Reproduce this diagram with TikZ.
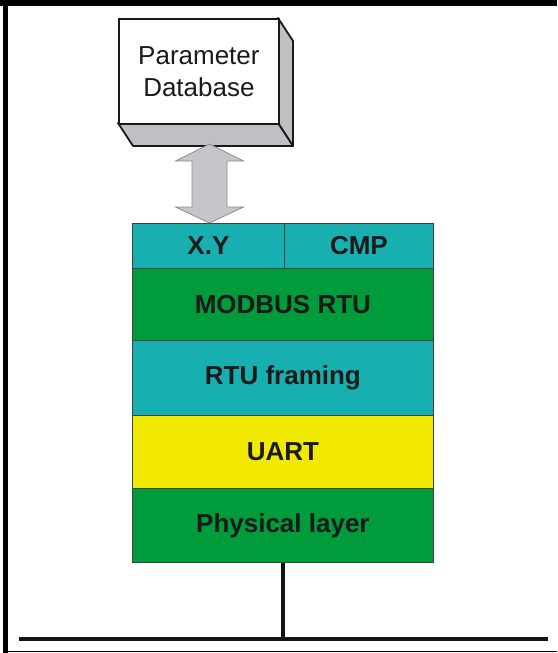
\documentclass[tikz,border=0pt]{standalone}
\usepackage{fontspec}
\setmainfont{Liberation Sans}
\definecolor{tealc}{RGB}{23,175,175}
\definecolor{greenc}{RGB}{0,156,60}
\definecolor{yellowc}{RGB}{242,233,0}
\definecolor{sidegray}{RGB}{192,192,196}
\definecolor{arrowgray}{RGB}{198,198,202}
\definecolor{txt}{RGB}{26,26,26}
\begin{document}
\begin{tikzpicture}[x=1pt,y=-1pt,
  layer/.style={draw=black!75, line width=0.8pt, inner sep=0pt, anchor=north west,
    text=txt, font=\fontsize{26}{30}\selectfont\bfseries},
  dbface/.style={draw=black!90, line width=1.8pt, fill=white, inner sep=0pt, anchor=north west,
    align=center, text=txt, font=\fontsize{26}{32}\selectfont},
  dbside/.style={draw=black!90, line width=1.8pt, fill=sidegray, line join=round},
  blockarrow/.style={draw=black!45, line width=0.8pt, fill=arrowgray},
  wire/.style={line width=4pt, draw=black!92}
]
\useasboundingbox (0,0) rectangle (557,653);
\fill[white] (0,0) rectangle (557,653);
% frame
\fill[black] (0,0) rectangle (557,6);
\fill[black] (3,0) rectangle (8,653);
\draw[line width=1pt] (3,651.5) -- (557,651.5);

% parameter database (3D box)
\draw[dbside] (278,18) -- (293,41) -- (293,146) -- (278,123) -- cycle;
\draw[dbside] (118,123) -- (278,123) -- (293,146) -- (133,146) -- cycle;
\node[dbface, minimum width=160pt, minimum height=105pt] (db) at (118,18) {Parameter\\Database};

% protocol stack
\node[layer, fill=tealc, minimum width=152pt, minimum height=45pt] (xy) at (132,223) {X.Y};
\node[layer, fill=tealc, minimum width=149pt, minimum height=45pt] (cmp) at (284,223) {CMP};
\node[layer, fill=greenc, minimum width=301pt, minimum height=72pt] (modbus) at (132,268) {MODBUS RTU};
\node[layer, fill=tealc, minimum width=301pt, minimum height=75pt] (rtu) at (132,340) {RTU framing};
\node[layer, fill=yellowc, minimum width=301pt, minimum height=73pt] (uart) at (132,415) {UART};
\node[layer, fill=greenc, minimum width=301pt, minimum height=74pt] (phys) at (132,488) {Physical layer};

% double block arrow between database and stack
\draw[blockarrow] (209.5,144) -- (243.5,161) -- (227,161) -- (227,207) -- (243.5,207)
  -- (209.5,223) -- (175.5,207) -- (192,207) -- (192,161) -- (175.5,161) -- cycle;

% bus
\coordinate (busL) at (19,639);
\coordinate (busR) at (548,639);
\coordinate (tap) at (283,639);
\draw[wire] (busL) -- (busR);
\draw[wire] (phys.south -| tap) -- (tap);
\end{tikzpicture}
\end{document}
